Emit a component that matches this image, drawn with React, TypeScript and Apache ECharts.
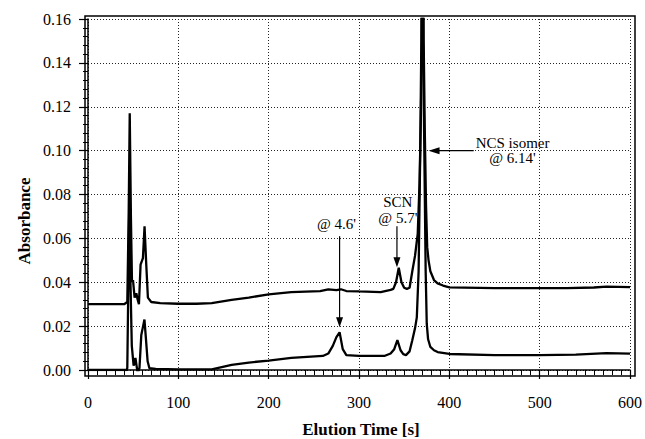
import React, { useEffect, useRef } from "react";
import * as echarts from "echarts";

// Elution time (s) and absorbance of the upper trace (offset ~0.03)
const upperTime = [0, 40, 43.5, 45, 46.2, 47.5, 48.7, 49.8, 51.6, 53.5, 55, 56.4, 58.2, 60.8, 62.6, 64.5, 66.3, 70, 80, 100, 120, 137, 159, 178, 200, 225, 257, 266, 275, 280, 286, 300, 324, 335, 338, 341, 344, 347, 350, 353, 356, 359, 362, 365, 367, 368.5, 369.6, 370.6, 371.6, 372.8, 374.2, 375.5, 377, 379, 383, 387, 393, 400, 450, 500, 530, 560, 574, 600];
const upperAbs = [0.03, 0.03, 0.031, 0.07, 0.117, 0.07, 0.04, 0.041, 0.033, 0.035, 0.032, 0.03, 0.048, 0.051, 0.0655, 0.048, 0.033, 0.031, 0.0305, 0.0302, 0.0302, 0.0305, 0.032, 0.033, 0.0345, 0.0355, 0.036, 0.0368, 0.0364, 0.0368, 0.036, 0.0358, 0.0355, 0.0365, 0.037, 0.04, 0.0466, 0.04, 0.0375, 0.037, 0.0375, 0.045, 0.052, 0.062, 0.085, 0.115, 0.15, 0.26, 0.15, 0.11, 0.075, 0.056, 0.05, 0.045, 0.041, 0.0395, 0.0385, 0.0377, 0.0373, 0.0373, 0.0373, 0.0376, 0.038, 0.0378];

// Lower trace
const lowerTime = [0, 43, 43.5, 45, 46, 47, 48.5, 50.5, 52.5, 55, 57, 59, 61, 62.5, 64, 66, 68, 75, 100, 137, 159, 178, 200, 225, 260, 266, 271, 275, 278.5, 282, 286, 300, 328, 335, 339, 342.5, 346, 349, 352, 356, 359, 362, 364, 366, 367.8, 369, 370, 371, 372.3, 373.8, 375, 376.5, 379, 383, 387, 400, 450, 500, 540, 574, 600];
const lowerAbs = [0, 0, 0.001, 0.05, 0.09, 0.04, 0.011, 0.002, 0.0055, -0.0015, 0.001, 0.016, 0.02, 0.023, 0.015, 0.004, 0.0008, 0.0005, 0.0003, 0.0003, 0.0023, 0.0034, 0.0043, 0.0055, 0.0064, 0.0075, 0.011, 0.015, 0.0172, 0.0095, 0.0068, 0.0064, 0.0064, 0.0075, 0.0095, 0.0136, 0.009, 0.0072, 0.0068, 0.0085, 0.0136, 0.019, 0.024, 0.045, 0.1, 0.15, 0.26, 0.15, 0.1, 0.045, 0.021, 0.014, 0.0105, 0.009, 0.0082, 0.0073, 0.0068, 0.0068, 0.007, 0.0077, 0.0075];

const xTicks = { min: 0, max: 600, interval: 100 };
const yTicks = { min: 0, max: 0.16, interval: 0.02 };

// Annotations (data coordinates)
const labels4 = { text: ["@ 4.6'"], x: 275, y: [0.0664], arrowX: 278.5, arrowFrom: 0.061, arrowTo: 0.0195 };
const labelsSCN = { text: ["SCN", "@ 5.7'"], x: 343, y: [0.0764, 0.0695], arrowX: 342, arrowFrom: 0.0655, arrowTo: 0.0468 };
const labelsNCS = { text: ["NCS isomer", "@ 6.14'"], x: 470, y: [0.1036, 0.0968], arrowY: 0.1, arrowFrom: 427, arrowTo: 377 };

const FONT = '"Liberation Serif", "DejaVu Serif", serif';

export default function App() {
  const ref = useRef<HTMLDivElement>(null);
  useEffect(() => {
    if (!ref.current) return;
    const chart = echarts.init(ref.current, null, { renderer: "svg" });
    const gridLine = { show: true, lineStyle: { color: "#222", type: [1, 2] as any, width: 1 } };
    chart.setOption({
      animation: false,
      backgroundColor: "#fff",
      grid: { left: 88, right: 12, top: 19, bottom: 69 },
      xAxis: {
        type: "value",
        min: xTicks.min,
        max: xTicks.max,
        interval: xTicks.interval,
        offset: 6,
        axisLine: { show: true, lineStyle: { color: "#000", width: 1.5 } },
        axisTick: { show: true, length: 9, lineStyle: { color: "#000", width: 1.2 } },
        minorTick: { show: true, splitNumber: 10, length: 5, lineStyle: { color: "#000", width: 1 } },
        axisLabel: { color: "#000", fontFamily: FONT, fontSize: 16, margin: 18 },
        splitLine: gridLine,
      },
      yAxis: {
        type: "value",
        min: yTicks.min,
        max: yTicks.max,
        interval: yTicks.interval,
        offset: 3,
        axisLine: { show: true, lineStyle: { color: "#000", width: 1.5 } },
        axisTick: { show: true, length: 9, lineStyle: { color: "#000", width: 1.2 } },
        minorTick: { show: true, splitNumber: 5, length: 5, lineStyle: { color: "#000", width: 1 } },
        axisLabel: { color: "#000", fontFamily: FONT, fontSize: 16, margin: 14, formatter: (v: number) => v.toFixed(2) },
        splitLine: gridLine,
      },
      series: [
        {
          type: "line",
          data: upperTime.map((t, i) => [t, upperAbs[i]]),
          symbol: "none",
          clip: true,
          lineStyle: { color: "#000", width: 2.3 },
        },
        {
          type: "line",
          data: lowerTime.map((t, i) => [t, lowerAbs[i]]),
          symbol: "none",
          clip: true,
          lineStyle: { color: "#000", width: 2.3 },
        },
      ],
    });

    const px = (x: number, y: number) => chart.convertToPixel({ gridIndex: 0 }, [x, y]) as number[];
    const txt = (s: string, x: number, y: number, size = 15, weight = "normal", rot = 0) => ({
      type: "text",
      x,
      y,
      rotation: rot,
      z: 100,
      style: {
        text: s,
        fill: "#000",
        font: `${weight} ${size}px ${FONT}`,
        textAlign: "center",
        textVerticalAlign: "middle",
        align: "center",
        verticalAlign: "middle",
      },
    });
    const elems: any[] = [];
    // frame
    elems.push({
      type: "rect",
      shape: { x: 85, y: 16, width: 550, height: 360 },
      style: { fill: "none", stroke: "#000", lineWidth: 1.5 },
      z: 50,
    });
    const vArrow = (a: any) => {
      a.text.forEach((s: string, i: number) => {
        const p = px(a.x, a.y[i]);
        elems.push(txt(s, p[0], p[1]));
      });
      const p1 = px(a.arrowX, a.arrowFrom);
      const p2 = px(a.arrowX, a.arrowTo);
      elems.push({ type: "line", z: 100, shape: { x1: p1[0], y1: p1[1], x2: p2[0], y2: p2[1] - 8 }, style: { stroke: "#000", lineWidth: 1.2 } });
      elems.push({ type: "polygon", z: 100, shape: { points: [[p2[0] - 3.5, p2[1] - 10], [p2[0] + 3.5, p2[1] - 10], [p2[0], p2[1]]] }, style: { fill: "#000" } });
    };
    vArrow(labels4);
    vArrow(labelsSCN);
    labelsNCS.text.forEach((s, i) => {
      const p = px(labelsNCS.x, labelsNCS.y[i]);
      elems.push(txt(s, p[0], p[1]));
    });
    const n1 = px(labelsNCS.arrowFrom, labelsNCS.arrowY);
    const n2 = px(labelsNCS.arrowTo, labelsNCS.arrowY);
    elems.push({ type: "line", z: 100, shape: { x1: n1[0], y1: n1[1], x2: n2[0] + 8, y2: n2[1] }, style: { stroke: "#000", lineWidth: 1.2 } });
    elems.push({ type: "polygon", z: 100, shape: { points: [[n2[0] + 11, n2[1] - 3.5], [n2[0] + 11, n2[1] + 3.5], [n2[0], n2[1]]] }, style: { fill: "#000" } });
    // axis names
    elems.push(txt("Elution Time [s]", 361, 429, 17, "bold"));
    elems.push(txt("Absorbance", 24, 221, 17, "bold", Math.PI / 2));
    chart.setOption({ graphic: elems });

    return () => chart.dispose();
  }, []);
  return <div ref={ref} style={{ width: 645, height: 439, position: "absolute", left: 0, top: 0 }} />;
}
